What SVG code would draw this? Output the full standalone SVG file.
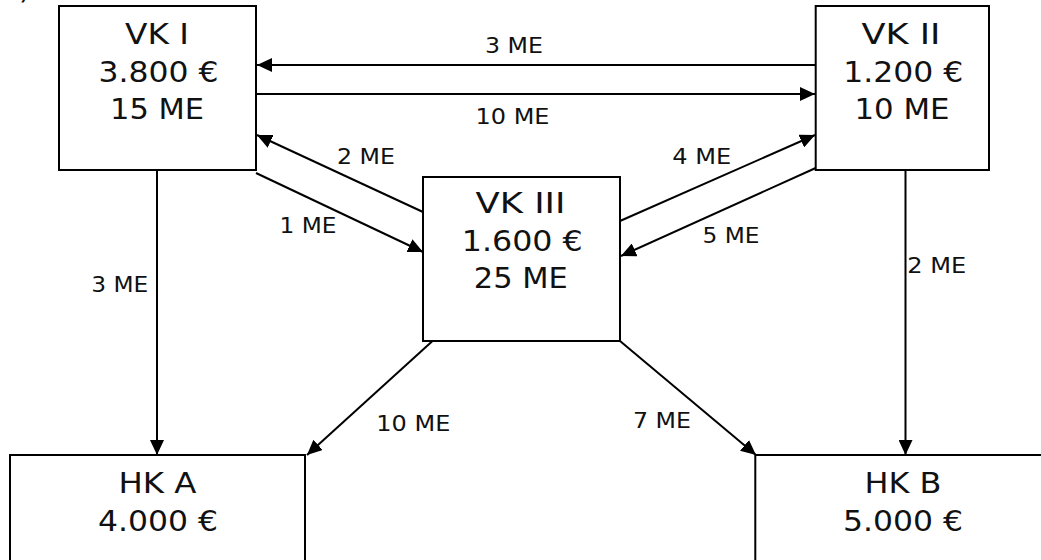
<svg xmlns="http://www.w3.org/2000/svg" width="1041" height="560" viewBox="0 0 1041 560">
<defs>
<style>
.box{fill:#fff;stroke:#000;stroke-width:2}
.big{font-family:"DejaVu Sans","Liberation Sans",sans-serif;font-size:29px;fill:#111;text-anchor:middle}
.lbl{font-family:"DejaVu Sans","Liberation Sans",sans-serif;font-size:21px;fill:#111;text-anchor:middle}
.edge{stroke:#000;stroke-width:2;fill:none;marker-end:url(#ah)}
</style>
<marker id="ah" markerUnits="userSpaceOnUse" markerWidth="16" markerHeight="14" refX="15" refY="7" orient="auto">
<path d="M0,0 L15,7 L0,14 z" fill="#000"/>
</marker>
</defs>
<rect width="1041" height="560" fill="#fff"/>
<text x="19" y="-1" class="big" style="text-anchor:start">)</text>

<g id="connectors">
<line class="edge" x1="815" y1="65" x2="257" y2="65"/>
<line class="edge" x1="256" y1="94" x2="815" y2="94"/>
<line class="edge" x1="423" y1="212" x2="257" y2="135"/>
<line class="edge" x1="256" y1="173" x2="423" y2="252"/>
<line class="edge" x1="620" y1="221" x2="815" y2="135"/>
<line class="edge" x1="815.7" y1="168" x2="621" y2="256"/>
<line class="edge" x1="157" y1="171" x2="157" y2="455"/>
<line class="edge" x1="905.5" y1="171" x2="905.5" y2="455"/>
<line class="edge" x1="432.5" y1="341" x2="307" y2="455"/>
<line class="edge" x1="620" y1="341" x2="756" y2="455"/>
<text class="lbl" x="514" y="52.5" textLength="58" lengthAdjust="spacingAndGlyphs">3 ME</text>
<text class="lbl" x="512.5" y="123.5" textLength="74" lengthAdjust="spacingAndGlyphs">10 ME</text>
<text class="lbl" x="366" y="164" textLength="58" lengthAdjust="spacingAndGlyphs">2 ME</text>
<text class="lbl" x="308" y="232.7" textLength="57" lengthAdjust="spacingAndGlyphs">1 ME</text>
<text class="lbl" x="701.7" y="164" textLength="59" lengthAdjust="spacingAndGlyphs">4 ME</text>
<text class="lbl" x="731" y="243.3" textLength="57" lengthAdjust="spacingAndGlyphs">5 ME</text>
<text class="lbl" x="119.8" y="291.5" textLength="57" lengthAdjust="spacingAndGlyphs">3 ME</text>
<text class="lbl" x="936.7" y="273.3" textLength="59" lengthAdjust="spacingAndGlyphs">2 ME</text>
<text class="lbl" x="413.3" y="430.5" textLength="74" lengthAdjust="spacingAndGlyphs">10 ME</text>
<text class="lbl" x="662" y="428" textLength="58" lengthAdjust="spacingAndGlyphs">7 ME</text>
</g>

<g id="vk1">
<rect class="box" x="59" y="6" width="197" height="164"/>
<text class="big" x="157" y="44" textLength="64" lengthAdjust="spacingAndGlyphs">VK I</text>
<text class="big" x="158.5" y="81.5" textLength="120" lengthAdjust="spacingAndGlyphs">3.800 €</text>
<text class="big" x="157" y="118.5" textLength="94" lengthAdjust="spacingAndGlyphs">15 ME</text>
</g>

<g id="vk2">
<rect class="box" x="815.7" y="6" width="173.3" height="164"/>
<text class="big" x="901" y="44" textLength="79" lengthAdjust="spacingAndGlyphs">VK II</text>
<text class="big" x="903.3" y="81.5" textLength="120" lengthAdjust="spacingAndGlyphs">1.200 €</text>
<text class="big" x="902" y="118.5" textLength="95" lengthAdjust="spacingAndGlyphs">10 ME</text>
</g>

<g id="vk3">
<rect class="box" x="423" y="177" width="197" height="164"/>
<text class="big" x="520.5" y="213.3" textLength="90" lengthAdjust="spacingAndGlyphs">VK III</text>
<text class="big" x="522.3" y="250.7" textLength="121" lengthAdjust="spacingAndGlyphs">1.600 €</text>
<text class="big" x="520.8" y="288.3" textLength="94" lengthAdjust="spacingAndGlyphs">25 ME</text>
</g>

<g id="hka">
<rect class="box" x="10" y="455" width="295" height="120"/>
<text class="big" x="157.5" y="493.3" textLength="78" lengthAdjust="spacingAndGlyphs">HK A</text>
<text class="big" x="158" y="531" textLength="120" lengthAdjust="spacingAndGlyphs">4.000 €</text>
</g>

<g id="hkb">
<rect class="box" x="755.3" y="455" width="300" height="120"/>
<text class="big" x="903" y="492.7" textLength="77" lengthAdjust="spacingAndGlyphs">HK B</text>
<text class="big" x="903" y="531" textLength="120" lengthAdjust="spacingAndGlyphs">5.000 €</text>
</g>
</svg>
